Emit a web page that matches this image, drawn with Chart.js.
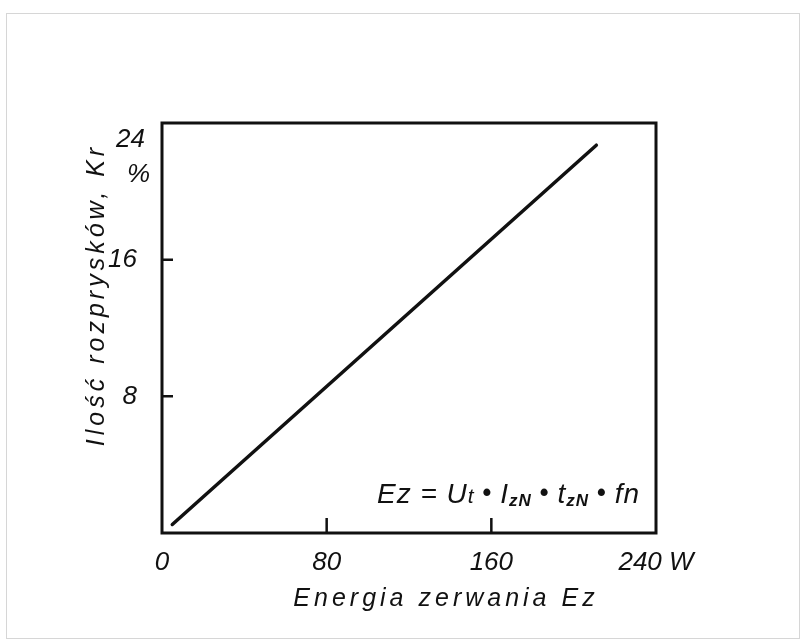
<!DOCTYPE html>
<html>
<head>
<meta charset="utf-8">
<script src="https://cdn.jsdelivr.net/npm/chart.js@4.4.1/dist/chart.umd.min.js"></script>
<style>
  html, body { margin: 0; padding: 0; background: #fff; }
  #wrap { width: 801px; height: 643px; }
</style>
</head>
<body>
<div id="wrap"><canvas id="chart"></canvas></div>
<script>
// spatter amount vs. break energy (straight line, two end points)
const energyW = [5, 211];
const spatterPct = [0.5, 22.7];

const xTicks = [0, 80, 160, 240];
const yTicks = [8, 16, 24];
const xUnit = 'W';
const yUnit = '%';
const xTitle = 'Energia zerwania Ez';
const yTitle = 'Ilość rozprysków, Kr';

// E_z = U_t · I_zN · t_zN · f_n  -> [text, style]
const formula = [
  ['Ez', 'n'], [' = U', 'n'], ['t', 's'], [' • ', 'd'], ['I', 'n'], ['zN', 'b'],
  [' • ', 'd'], ['t', 'n'], ['zN', 'b'], [' • ', 'd'], ['fn', 'n']
];

const ink = '#111';
const plain = '"Liberation Sans", "DejaVu Sans", sans-serif';

const spaced = (ctx, text, x, y, spacing) => {
  ctx.letterSpacing = spacing + 'px';
  ctx.fillText(text, x, y);
  ctx.letterSpacing = '0px';
};

const frame = {
  id: 'frame',
  beforeDraw(chart) {
    const { ctx, width, height } = chart;
    ctx.save();
    ctx.fillStyle = '#fff';
    ctx.fillRect(0, 0, width, height);
    // edge of the paper sheet
    ctx.strokeStyle = '#d6d6d6';
    ctx.lineWidth = 1;
    ctx.strokeRect(6.5, 13.5, width - 8, height - 18);
    ctx.restore();
  },
  afterDatasetsDraw(chart) {
    const { ctx, chartArea: a, scales: { x, y } } = chart;
    ctx.save();
    ctx.strokeStyle = ink;
    ctx.lineWidth = 3;
    ctx.strokeRect(a.left, a.top, a.width, a.height);

    // short ticks pointing into the plot
    ctx.lineWidth = 2.5;
    ctx.beginPath();
    xTicks.slice(1, -1).forEach(v => {
      const px = x.getPixelForValue(v);
      ctx.moveTo(px, a.bottom);
      ctx.lineTo(px, a.bottom - 15);
    });
    yTicks.slice(0, -1).forEach(v => {
      const py = y.getPixelForValue(v);
      ctx.moveTo(a.left, py);
      ctx.lineTo(a.left + 11, py);
    });
    ctx.stroke();

    ctx.fillStyle = ink;

    // top y label sits below the corner, unit under it
    const top = y.getPixelForValue(yTicks[yTicks.length - 1]);
    ctx.font = 'italic 26px ' + plain;
    ctx.textAlign = 'right';
    ctx.textBaseline = 'alphabetic';
    ctx.fillText(String(yTicks[yTicks.length - 1]), a.left - 17, top + 24);
    ctx.fillText(yUnit, a.left - 12, top + 59);

    // axis titles
    ctx.font = 'italic 25px ' + plain;
    ctx.textAlign = 'center';
    spaced(ctx, xTitle, 446, 606, 4);

    ctx.save();
    ctx.translate(104, 295);
    ctx.rotate(-Math.PI / 2);
    spaced(ctx, yTitle, 0, 0, 4);
    ctx.restore();

    // formula, right-aligned inside the plot
    const fonts = {
      n: 'italic 28px ' + plain,
      s: 'italic 21px ' + plain,
      b: 'italic bold 17px ' + plain,
      d: 'bold 25px ' + plain
    };
    const dy = { n: 0, s: 0, b: 3, d: -2 };
    ctx.textAlign = 'left';
    ctx.letterSpacing = '1px';
    let w = 0;
    formula.forEach(([t, k]) => { ctx.font = fonts[k]; w += ctx.measureText(t).width; });
    let fx = a.right - 16 - w;
    const fy = a.bottom - 30;
    formula.forEach(([t, k]) => {
      ctx.font = fonts[k];
      ctx.fillText(t, fx, fy + dy[k]);
      fx += ctx.measureText(t).width;
    });
    ctx.letterSpacing = '0px';
    ctx.restore();
  }
};

new Chart(document.getElementById('chart'), {
  type: 'line',
  data: {
    datasets: [{
      data: energyW.map((v, i) => ({ x: v, y: spatterPct[i] })),
      borderColor: ink,
      borderWidth: 3.5,
      borderCapStyle: 'round',
      pointRadius: 0,
      tension: 0
    }]
  },
  options: {
    responsive: true,
    maintainAspectRatio: false,
    animation: false,
    layout: { padding: { top: 123, right: 145, bottom: 0, left: 0 } },
    plugins: { legend: { display: false }, tooltip: { enabled: false } },
    scales: {
      x: {
        type: 'linear',
        min: 0,
        max: 240,
        afterBuildTicks: s => { s.ticks = xTicks.map(value => ({ value })); },
        afterFit: s => { s.height = 110; },
        grid: { display: false },
        border: { display: false },
        ticks: {
          color: ink,
          padding: 6,
          maxRotation: 0,
          font: { family: plain, size: 26, style: 'italic' },
          callback: v => v === xTicks[xTicks.length - 1] ? v + ' ' + xUnit : v
        }
      },
      y: {
        type: 'linear',
        min: 0,
        max: 24,
        afterBuildTicks: s => { s.ticks = yTicks.map(value => ({ value })); },
        afterFit: s => { s.width = 162; },
        grid: { display: false },
        border: { display: false },
        ticks: {
          color: ink,
          padding: 17,
          font: { family: plain, size: 26, style: 'italic' },
          callback: v => v === yTicks[yTicks.length - 1] ? '' : v
        }
      }
    }
  },
  plugins: [frame]
});
</script>
</body>
</html>
